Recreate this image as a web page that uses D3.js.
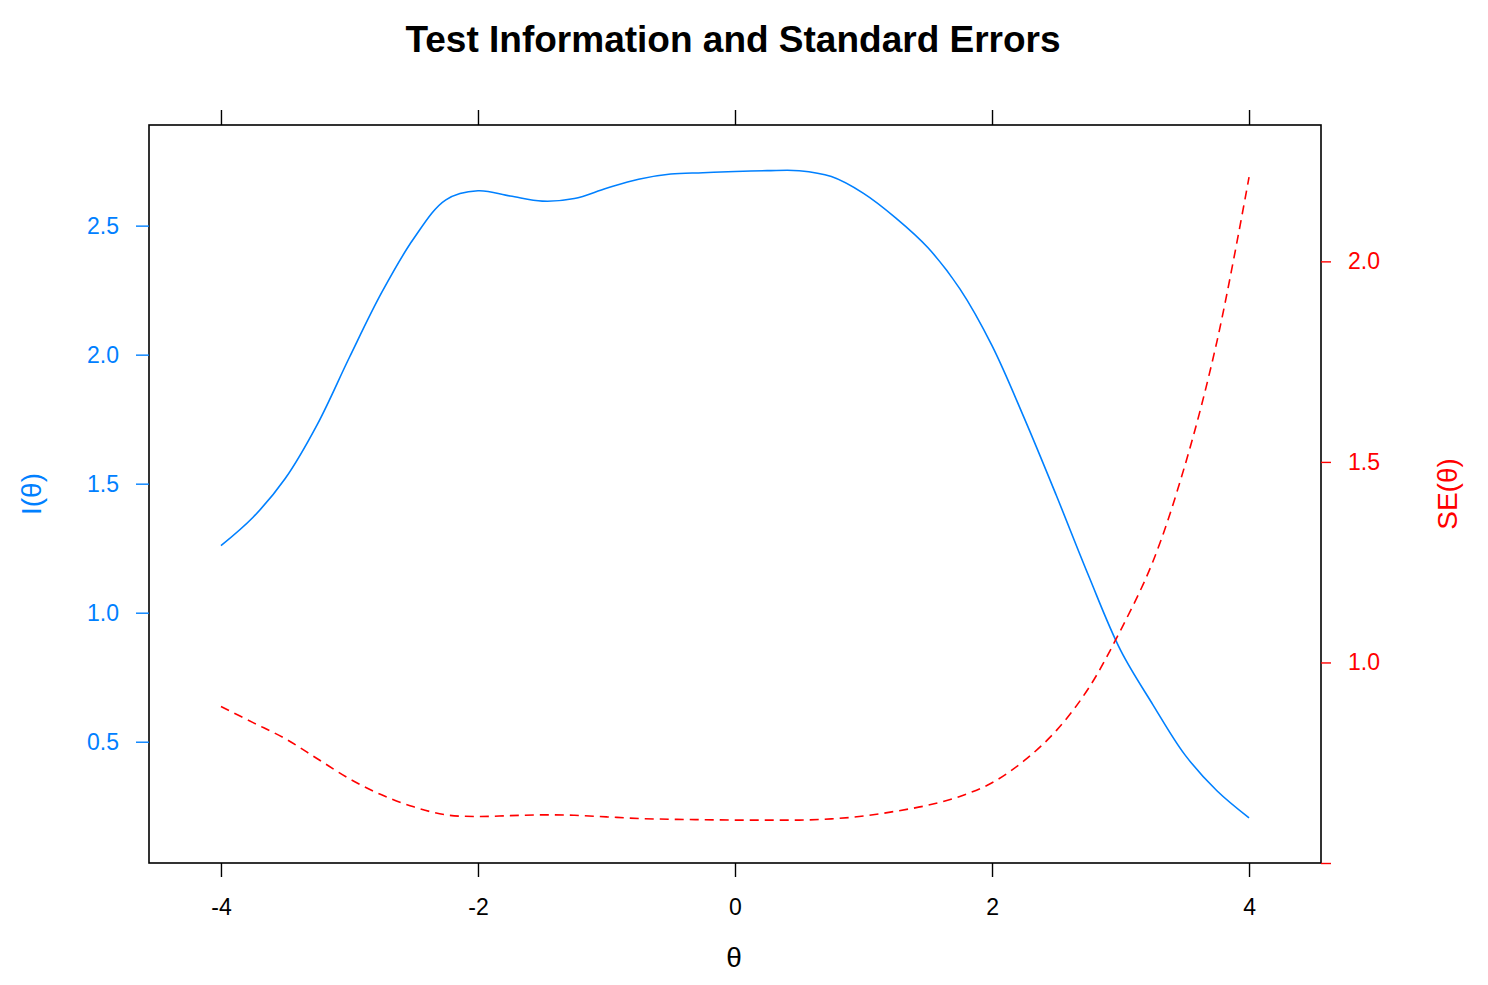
<!DOCTYPE html>
<meta charset="utf-8">
<script src="https://cdn.jsdelivr.net/npm/d3@7"></script>
<style>
    body { margin: 0; background: #fff; }
    text { font-family: "Liberation Sans", Arial, sans-serif; }
</style>
<body>
<svg width="1488" height="985"></svg>
</body>
<script>

    // theta grid
    var theta = [-4, -3.75, -3.5, -3.25, -3, -2.75, -2.5, -2.25, -2, -1.75, -1.5, -1.25, -1, -0.75, -0.5, -0.25,
                 0, 0.25, 0.5, 0.75, 1, 1.25, 1.5, 1.75, 2, 2.25, 2.5, 2.75, 3, 3.25, 3.5, 3.75, 4];
    // test information I(theta)
    var info = [1.26, 1.37, 1.52, 1.73, 1.99, 2.24, 2.45, 2.60, 2.635, 2.615, 2.595, 2.605, 2.645, 2.68, 2.70, 2.705,
                2.71, 2.713, 2.713, 2.69, 2.625, 2.53, 2.415, 2.255, 2.035, 1.755, 1.455, 1.145, 0.855, 0.645, 0.45, 0.31, 0.205];
    // standard error SE(theta)
    var se = [0.89, 0.85, 0.81, 0.76, 0.71, 0.67, 0.64, 0.62, 0.616, 0.618, 0.62, 0.619, 0.615, 0.611, 0.609, 0.608,
              0.607, 0.607, 0.607, 0.61, 0.617, 0.629, 0.644, 0.666, 0.70, 0.755, 0.83, 0.935, 1.08, 1.25, 1.49, 1.80, 2.21];

    var xTicks = [-4, -2, 0, 2, 4];
    var infoTicks = [0.5, 1.0, 1.5, 2.0, 2.5];
    var seTicks = [0.5, 1.0, 1.5, 2.0];

    var clr_info = "#0080ff",
        clr_se = "#ff0000";

    // panel edges (px)
    var pLeft = 149, pRight = 1321, pTop = 125, pBottom = 863;

    var svg = d3.select("svg");

    var x = d3.scaleLinear().domain([-4.56, 4.56]).range([pLeft, pRight]);
    var yInfo = d3.scaleLinear().domain([0.03, 2.89]).range([pBottom, pTop]);
    var ySe = d3.scaleLinear().domain([0.5, 2.34]).range([pBottom, pTop]);

    // title
    svg.append("text")
        .attr("x", 733).attr("y", 52)
        .attr("text-anchor", "middle")
        .style("font-size", "37px").style("font-weight", "bold")
        .text("Test Information and Standard Errors");

    // curves
    var lineInfo = d3.line()
        .x(function (d, i) { return x(theta[i]); })
        .y(function (d) { return yInfo(d); })
        .curve(d3.curveCatmullRom);
    var lineSe = d3.line()
        .x(function (d, i) { return x(theta[i]); })
        .y(function (d) { return ySe(d); })
        .curve(d3.curveCatmullRom);

    svg.append("path").datum(info)
        .attr("d", lineInfo)
        .attr("fill", "none")
        .attr("stroke", clr_info)
        .attr("stroke-width", 1.6);

    svg.append("path").datum(se)
        .attr("d", lineSe)
        .attr("fill", "none")
        .attr("stroke", clr_se)
        .attr("stroke-width", 1.6)
        .attr("stroke-dasharray", "9,6");

    // panel frame
    svg.append("rect")
        .attr("x", pLeft).attr("y", pTop)
        .attr("width", pRight - pLeft).attr("height", pBottom - pTop)
        .attr("fill", "none").attr("stroke", "black").attr("stroke-width", 1.6);

    var fmtInt = function (d) { return String(d); };   // plain hyphen minus like R

    // bottom axis
    var bottomAxis = svg.append("g")
        .attr("transform", "translate(0," + pBottom + ")")
        .call(d3.axisBottom(x).tickValues(xTicks).tickSize(14).tickPadding(22).tickFormat(fmtInt));
    // top axis (ticks only)
    var topAxis = svg.append("g")
        .attr("transform", "translate(0," + pTop + ")")
        .call(d3.axisTop(x).tickValues(xTicks).tickSize(15).tickFormat(""));
    [bottomAxis, topAxis].forEach(function (a) {
        a.select(".domain").remove();
        a.selectAll("line").attr("stroke", "black").attr("stroke-width", 1.4);
        a.selectAll("text").style("font-size", "23px").attr("fill", "black");
    });

    // left axis: information
    var leftAxis = svg.append("g")
        .attr("transform", "translate(" + pLeft + ",0)")
        .call(d3.axisLeft(yInfo).tickValues(infoTicks).tickSize(13).tickPadding(17).tickFormat(d3.format(".1f")));
    leftAxis.select(".domain").remove();
    leftAxis.selectAll("line").attr("stroke", clr_info).attr("stroke-width", 1.4);
    leftAxis.selectAll("text").style("font-size", "23px").attr("fill", clr_info);

    // right axis: standard error
    var rightAxis = svg.append("g")
        .attr("transform", "translate(" + pRight + ",0)")
        .call(d3.axisRight(ySe).tickValues(seTicks).tickSize(10).tickPadding(17)
            .tickFormat(function (d) { return d === 0.5 ? "" : d3.format(".1f")(d); }));
    rightAxis.select(".domain").remove();
    rightAxis.selectAll("line").attr("stroke", clr_se).attr("stroke-width", 1.4);
    rightAxis.selectAll("text").style("font-size", "23px").attr("fill", clr_se);

    // axis titles
    svg.append("text")
        .attr("x", 734).attr("y", 967)
        .attr("text-anchor", "middle")
        .style("font-size", "28px")
        .text("θ");

    svg.append("text")
        .attr("transform", "translate(41," + ((pTop + pBottom) / 2) + ") rotate(-90)")
        .attr("text-anchor", "middle")
        .attr("fill", clr_info)
        .style("font-size", "28px")
        .text("I(θ)");

    svg.append("text")
        .attr("transform", "translate(1457," + ((pTop + pBottom) / 2) + ") rotate(-90)")
        .attr("text-anchor", "middle")
        .attr("fill", clr_se)
        .style("font-size", "28px")
        .text("SE(θ)");

</script>
